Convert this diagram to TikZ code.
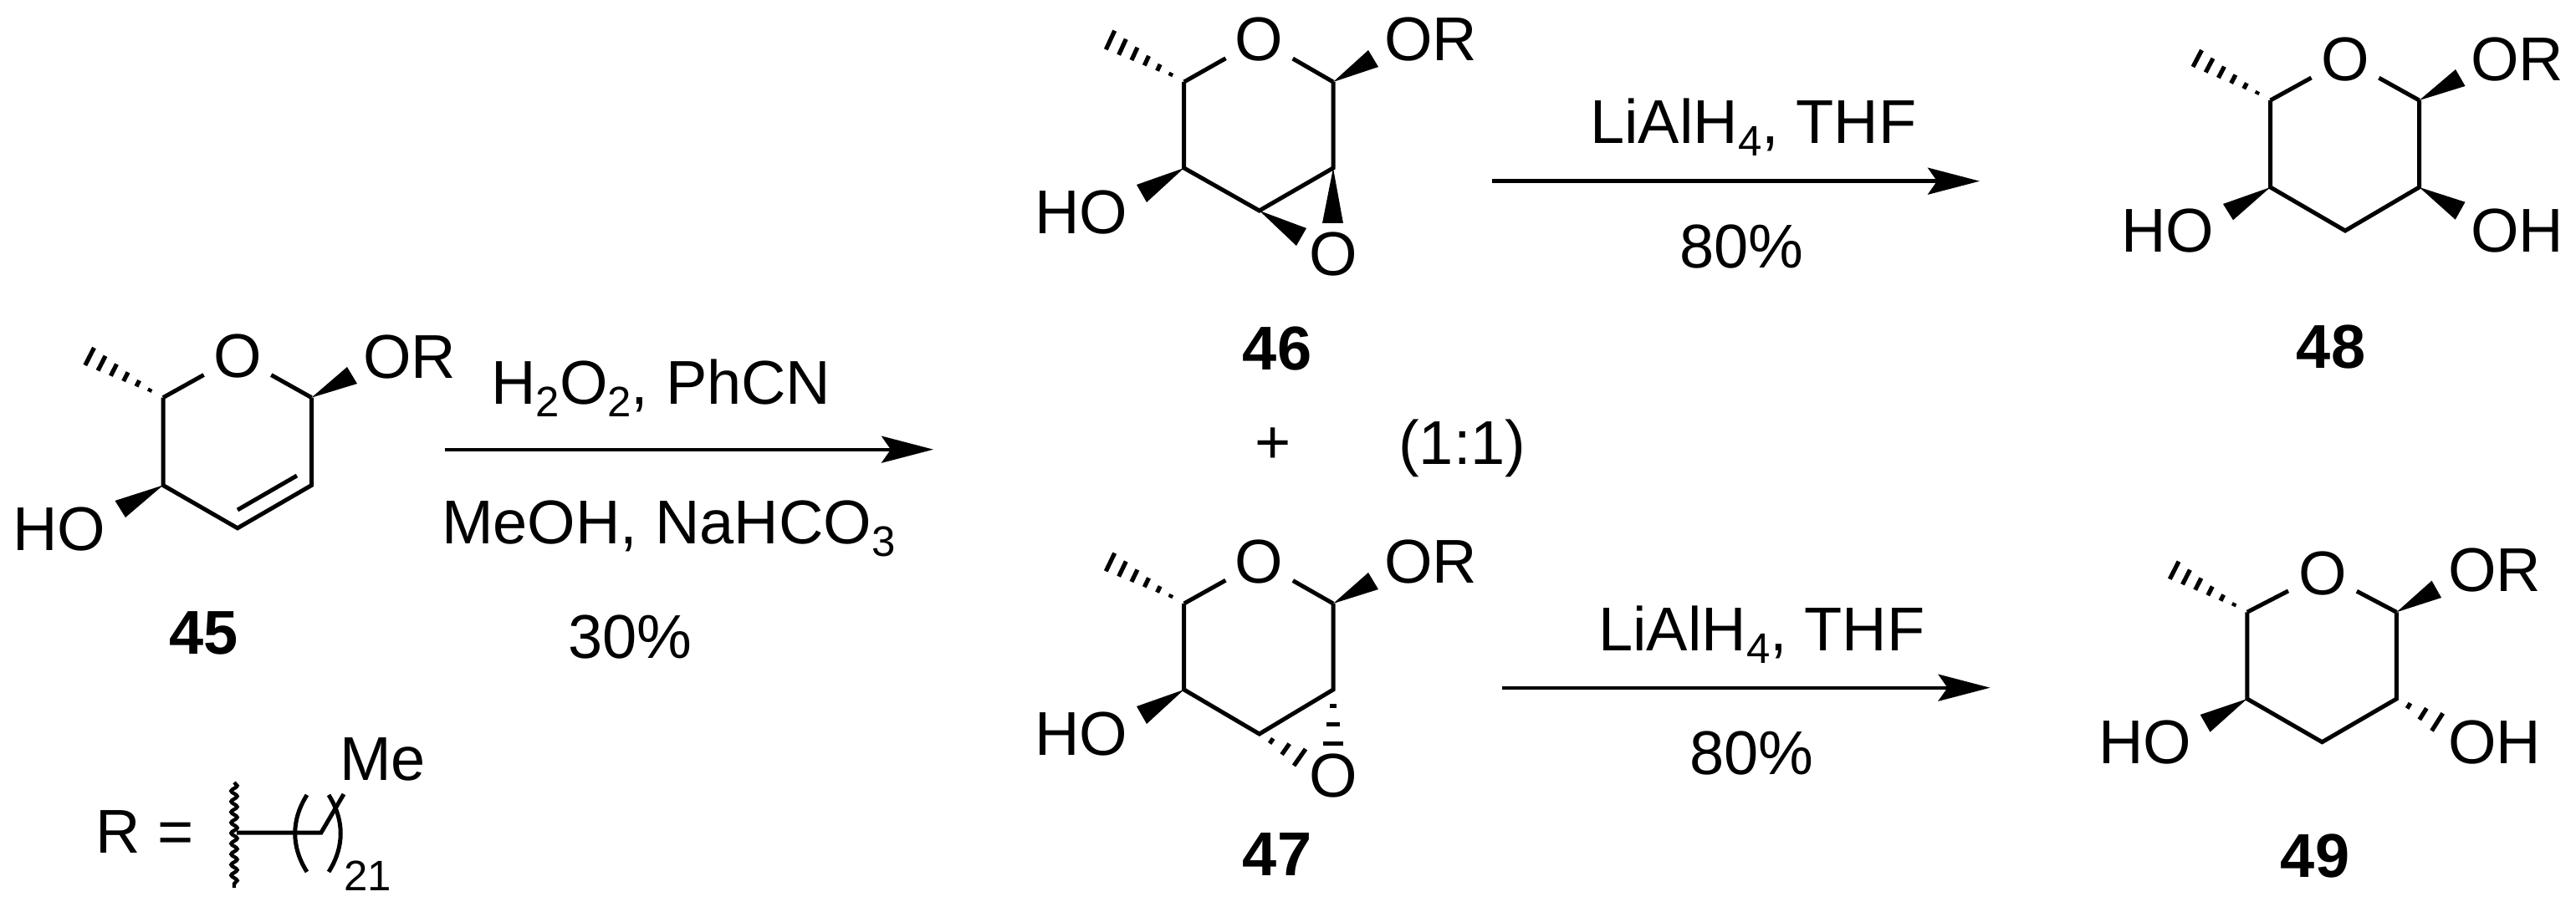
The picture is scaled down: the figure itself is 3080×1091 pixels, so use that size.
\documentclass[tikz,border=0pt]{standalone}
\usepackage{fontspec}
\setmainfont{Liberation Sans}
\usetikzlibrary{calc,arrows.meta,decorations.pathmorphing}
\newcommand{\subs}[1]{\raisebox{-15pt}{\fontsize{51}{51}\selectfont #1}}
\newcommand{\hashbond}[4]{\foreach \hh in #4 {\draw[hashbar] ($(#1)!\hh!(#2)$) -- ($(#1)!\hh!(#3)$);}}
\newcommand{\wedgebond}[3]{\fill[wedgefill] (#1) -- (#2) -- (#3) -- cycle;}
\def\sixbars{.18,.344,.508,.672,.836,1}
\def\threebars{.3,.65,1}
\tikzset{
  bond/.style={line width=5pt,line join=miter,line cap=butt},
  hashbar/.style={line width=5.2pt,line cap=butt},
  wedgefill/.style={fill=black},
  lab/.style={font=\fontsize{74}{80}\selectfont,inner sep=0pt,anchor=base west},
  numlab/.style={font=\fontsize{74}{80}\selectfont\bfseries,inner sep=0pt,anchor=base},
  atomO/.style={font=\fontsize{74}{80}\selectfont,circle,inner sep=0pt,minimum size=92pt},
  rxn/.style={line width=4.4pt,-{Stealth[length=62pt,width=32pt,inset=11pt]}},
}
\begin{document}
\begin{tikzpicture}[x=1pt,y=-1pt]
\useasboundingbox (0,0) rectangle (3080,1091);
\fill[white] (0,0) rectangle (3080,1091);

% ---- 45
\coordinate (a45c5) at (195,475.6);
\coordinate (a45c1) at (372.5,475.6);
\coordinate (a45c2) at (372.5,580.5);
\coordinate (a45c3) at (284,631.8);
\coordinate (a45c4) at (195,580.5);
\coordinate (a45d1) at (284,610);
\coordinate (a45d2) at (355,569);
\node[atomO] (a45o) at (284,426) {O};
\node[lab] (a45or) at (434,452) {OR};
\node[lab] (a45ho) at (15,658) {HO};
\node[numlab] (n45) at (243.5,782) {45};
\draw[bond] (a45c5) -- (a45o);
\draw[bond] (a45c1) -- (a45o);
\draw[bond] (a45c5) -- (a45c4) -- (a45c3) -- (a45c2) -- (a45c1);
\draw[bond] (a45d1) -- (a45d2);
\coordinate (a45mA) at (112.5,416); \coordinate (a45mB) at (101.8,437);
\hashbond{a45c5}{a45mA}{a45mB}{\sixbars}
\coordinate (a45wA) at (415,439); \coordinate (a45wB) at (427,459);
\wedgebond{a45c1}{a45wA}{a45wB}
\coordinate (a45hA) at (137.5,599); \coordinate (a45hB) at (150,619);
\wedgebond{a45c4}{a45hA}{a45hB}

% ---- R definition
\node[lab] (rdef) at (114,1020) {R =};
\coordinate (sqA) at (280,936);
\coordinate (sqB) at (280,1062);
\coordinate (sqM) at (283,996);
\coordinate (chA) at (384,996);
\coordinate (chB) at (411,950);
\draw[line width=4.4pt,decorate,decoration={snake,segment length=12.6pt,amplitude=3.6pt}] (sqA) -- (sqB);
\draw[bond] (sqM) -- (chA) -- (chB);
\coordinate (plA) at (367,951); \coordinate (plB) at (367,1043);
\coordinate (prA) at (393,951); \coordinate (prB) at (393,1043);
\draw[bond] (plA) .. controls (348,981) and (348,1013) .. (plB);
\draw[bond] (prA) .. controls (412,981) and (412,1013) .. (prB);
\node[lab] (me) at (406,933) {Me};
\node[lab,font=\fontsize{51}{51}\selectfont] (n21) at (411,1065) {21};

% ---- 46
\coordinate (a46c5) at (1415.7,98);
\coordinate (a46c1) at (1594,98);
\coordinate (a46c2) at (1594,201);
\coordinate (a46c3) at (1505.7,252);
\coordinate (a46c4) at (1415.7,201);
\node[atomO] (a46o) at (1505.7,47) {O};
\node[lab] (a46or) at (1655,72.5) {OR};
\node[lab] (a46ho) at (1237,279.5) {HO};
\node[atomO] (a46oe) at (1594,304) {O};
\node[numlab] (n46) at (1527,442) {46};
\draw[bond] (a46c5) -- (a46o);
\draw[bond] (a46c1) -- (a46o);
\draw[bond] (a46c5) -- (a46c4) -- (a46c3) -- (a46c2) -- (a46c1);
\coordinate (a46mA) at (1332.7,36.7); \coordinate (a46mB) at (1322.3,59.3);
\hashbond{a46c5}{a46mA}{a46mB}{\sixbars}
\coordinate (a46wA) at (1636,60); \coordinate (a46wB) at (1648,80);
\wedgebond{a46c1}{a46wA}{a46wB}
\coordinate (a46hA) at (1359,221); \coordinate (a46hB) at (1371,242);
\wedgebond{a46c4}{a46hA}{a46hB}
\coordinate (a46eA) at (1581,267); \coordinate (a46eB) at (1606,267);
\wedgebond{a46c2}{a46eA}{a46eB}
\coordinate (a46fA) at (1562,273); \coordinate (a46fB) at (1550,294);
\wedgebond{a46c3}{a46fA}{a46fB}

% ---- 47
\coordinate (a47c5) at (1415.7,722);
\coordinate (a47c1) at (1594,722);
\coordinate (a47c2) at (1594,825);
\coordinate (a47c3) at (1505.7,878);
\coordinate (a47c4) at (1415.7,825);
\node[atomO] (a47o) at (1505.7,671.7) {O};
\node[lab] (a47or) at (1655,697) {OR};
\node[lab] (a47ho) at (1237,903.5) {HO};
\node[atomO] (a47oe) at (1594,928) {O};
\node[numlab] (n47) at (1527,1047.7) {47};
\draw[bond] (a47c5) -- (a47o);
\draw[bond] (a47c1) -- (a47o);
\draw[bond] (a47c5) -- (a47c4) -- (a47c3) -- (a47c2) -- (a47c1);
\coordinate (a47mA) at (1332.7,661.7); \coordinate (a47mB) at (1322.3,683.3);
\hashbond{a47c5}{a47mA}{a47mB}{\sixbars}
\coordinate (a47wA) at (1636,685); \coordinate (a47wB) at (1648,705);
\wedgebond{a47c1}{a47wA}{a47wB}
\coordinate (a47hA) at (1359,845); \coordinate (a47hB) at (1371,866);
\wedgebond{a47c4}{a47hA}{a47hB}
\coordinate (a47eA) at (1581.7,889.3); \coordinate (a47eB) at (1606,889.3);
\hashbond{a47c2}{a47eA}{a47eB}{\threebars}
\coordinate (a47fA) at (1561,896); \coordinate (a47fB) at (1547,916);
\hashbond{a47c3}{a47fA}{a47fB}{\threebars}

% ---- 48
\coordinate (a48c5) at (2714.6,120);
\coordinate (a48c1) at (2892.5,120);
\coordinate (a48c2) at (2892.5,224);
\coordinate (a48c3) at (2804,276);
\coordinate (a48c4) at (2714.6,224);
\node[atomO] (a48o) at (2804,70.7) {O};
\node[lab] (a48or) at (2954,96.7) {OR};
\node[lab] (a48ho) at (2536,301.7) {HO};
\node[lab] (a48oh) at (2954,301.7) {OH};
\node[numlab] (n48) at (2787,440) {48};
\draw[bond] (a48c5) -- (a48o);
\draw[bond] (a48c1) -- (a48o);
\draw[bond] (a48c5) -- (a48c4) -- (a48c3) -- (a48c2) -- (a48c1);
\coordinate (a48mA) at (2632.5,60); \coordinate (a48mB) at (2622,80);
\hashbond{a48c5}{a48mA}{a48mB}{\sixbars}
\coordinate (a48wA) at (2936,83); \coordinate (a48wB) at (2947.5,103);
\wedgebond{a48c1}{a48wA}{a48wB}
\coordinate (a48hA) at (2658,244); \coordinate (a48hB) at (2670,263.3);
\wedgebond{a48c4}{a48hA}{a48hB}
\coordinate (a48gA) at (2947.5,241.7); \coordinate (a48gB) at (2935.7,262.7);
\wedgebond{a48c2}{a48gA}{a48gB}

% ---- 49
\coordinate (a49c5) at (2686.8,732.3);
\coordinate (a49c1) at (2865.4,732.3);
\coordinate (a49c2) at (2865.4,836);
\coordinate (a49c3) at (2776.4,887.7);
\coordinate (a49c4) at (2686.8,836);
\node[atomO] (a49o) at (2777,685.7) {O};
\node[lab] (a49or) at (2927,707.3) {OR};
\node[lab] (a49ho) at (2509,913.3) {HO};
\node[lab] (a49oh) at (2927,913.3) {OH};
\node[numlab] (n49) at (2768,1049) {49};
\draw[bond] (a49c5) -- (a49o);
\draw[bond] (a49c1) -- (a49o);
\draw[bond] (a49c5) -- (a49c4) -- (a49c3) -- (a49c2) -- (a49c1);
\coordinate (a49mA) at (2605,671.7); \coordinate (a49mB) at (2594.3,692.7);
\hashbond{a49c5}{a49mA}{a49mB}{\sixbars}
\coordinate (a49wA) at (2907.5,694.7); \coordinate (a49wB) at (2919,715);
\wedgebond{a49c1}{a49wA}{a49wB}
\coordinate (a49hA) at (2630.7,855); \coordinate (a49hB) at (2642.5,875.7);
\wedgebond{a49c4}{a49hA}{a49hB}
\coordinate (a49gA) at (2920.7,853.3); \coordinate (a49gB) at (2907.5,874.3);
\hashbond{a49c2}{a49gA}{a49gB}{\threebars}

% ---- arrows and reagents
\coordinate (ar1A) at (532,537.7); \coordinate (ar1B) at (1116,537.7);
\draw[rxn] (ar1A) -- (ar1B);
\node[lab] (r1a) at (587,483) {H\subs{2}O\subs{2}, PhCN};
\node[lab] (r1b) at (528,650.7) {MeOH, NaHCO\subs{3}};
\node[lab] (r1c) at (679,787) {30\%};

\node[font=\fontsize{74}{80}\selectfont,inner sep=0pt] (plus) at (1522,533) {+};
\node[lab] (ratio) at (1672,555) {(1:1)};

\coordinate (ar2A) at (1784,216.7); \coordinate (ar2B) at (2367,216.7);
\draw[rxn] (ar2A) -- (ar2B);
\node[lab] (r2a) at (1901,171.7) {LiAlH\subs{4}, THF};
\node[lab] (r2c) at (2008,320) {80\%};

\coordinate (ar3A) at (1796,822.7); \coordinate (ar3B) at (2379.5,822.7);
\draw[rxn] (ar3A) -- (ar3B);
\node[lab] (r3a) at (1911,778) {LiAlH\subs{4}, THF};
\node[lab] (r3c) at (2020,926.7) {80\%};
\end{tikzpicture}
\end{document}
